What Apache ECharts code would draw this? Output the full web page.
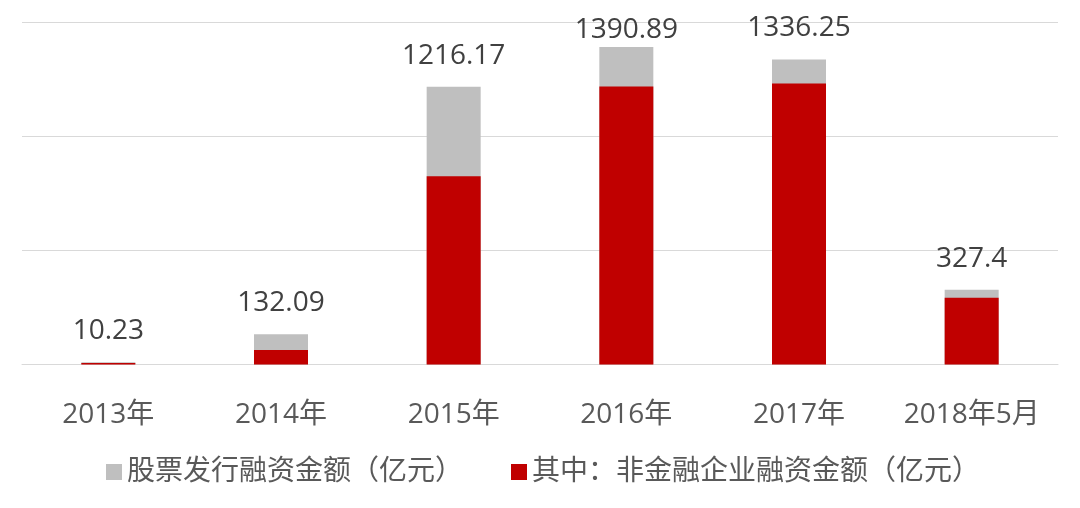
<!DOCTYPE html>
<html>
<head>
<meta charset="utf-8">
<script src="https://cdn.jsdelivr.net/npm/echarts@6/dist/echarts.min.js"></script>
<style>
html,body{margin:0;padding:0;background:#fff;}
#chart{width:1080px;height:508px;}
</style>
</head>
<body>
<div id="chart"></div>
<script>
var categories = ['2013年', '2014年', '2015年', '2016年', '2017年', '2018年5月'];
var totalValues = [10.23, 132.09, 1216.17, 1390.89, 1336.25, 327.4];
var nonFinValues = [7, 64, 825, 1218, 1231, 292];
var seriesNames = ['股票发行融资金额（亿元）', '其中：非金融企业融资金额（亿元）'];

var FONT = "'Open Sans', 'Noto Sans CJK SC', sans-serif";
var chart = echarts.init(document.getElementById('chart'), null, {renderer: 'canvas'});

var totalData = totalValues.map(function (v, i) {
  var item = {value: v};
  if (categories[i] === '2016年') {
    item.label = {offset: [0, 14]};
  }
  return item;
});

chart.setOption({
  animation: false,
  backgroundColor: '#ffffff',
  grid: {left: 22, right: 22, top: 22, bottom: 143.5, containLabel: false},
  legend: {
    left: 101,
    top: 453,
    itemWidth: 16,
    itemHeight: 16,
    itemGap: 48,
    icon: 'rect',
    textStyle: {fontFamily: FONT, fontSize: 28, color: '#595959', padding: [0, 0, 0, 0]},
    data: seriesNames
  },
  xAxis: {
    type: 'category',
    data: categories,
    axisLine: {lineStyle: {color: '#d9d9d9', width: 1}},
    axisTick: {show: false},
    axisLabel: {interval: 0, fontFamily: FONT, fontSize: 28, color: '#595959', margin: 37}
  },
  yAxis: {
    type: 'value',
    min: 0,
    max: 1500,
    interval: 500,
    axisLabel: {show: false},
    axisLine: {show: false},
    axisTick: {show: false},
    splitLine: {lineStyle: {color: '#d9d9d9', width: 1}}
  },
  series: [
    {
      name: seriesNames[0],
      type: 'bar',
      barWidth: 54,
      data: totalData,
      itemStyle: {color: '#BFBFBF'},
      label: {
        show: true,
        position: 'top',
        distance: 17,
        fontFamily: FONT,
        fontSize: 28,
        color: '#404040'
      }
    },
    {
      name: seriesNames[1],
      type: 'bar',
      barWidth: 54,
      barGap: '-100%',
      data: nonFinValues,
      itemStyle: {color: '#C00000'}
    }
  ]
});
</script>
</body>
</html>
